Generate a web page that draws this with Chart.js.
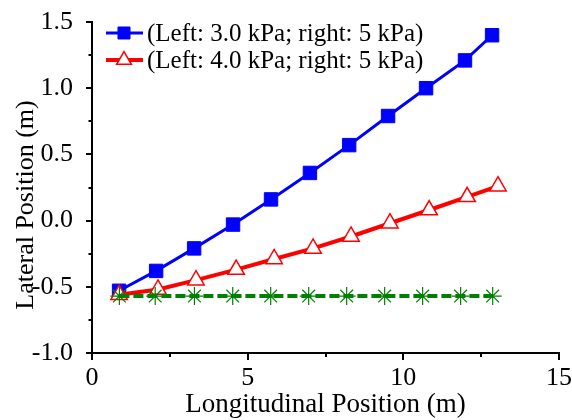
<!DOCTYPE html>
<html>
<head>
<meta charset="utf-8">
<script src="https://cdn.jsdelivr.net/npm/chart.js@4.4.1/dist/chart.umd.min.js"></script>
<style>
  html, body { margin: 0; padding: 0; background: #fff; }
</style>
</head>
<body>
<canvas id="chart" width="572" height="420"></canvas>
<script>
// legend labels
const seriesNames = ['(Left: 3.0 kPa; right: 5 kPa)', '(Left: 4.0 kPa; right: 5 kPa)']

// Left 3.0 kPa (blue squares)
const xBlue = [0.87, 2.06, 3.28, 4.53, 5.75, 7.0, 8.26, 9.51, 10.73, 11.98, 12.85]
const yBlue = [-0.53, -0.38, -0.21, -0.03, 0.16, 0.36, 0.57, 0.79, 1.0, 1.21, 1.40]

// Left 4.0 kPa (red triangles)
const xRed = [0.87, 2.12, 3.34, 4.63, 5.85, 7.1, 8.32, 9.57, 10.83, 12.05, 13.04]
const yRed = [-0.56, -0.52, -0.45, -0.37, -0.29, -0.21, -0.12, -0.02, 0.08, 0.18, 0.26]

// reference line (green stars)
const xGreen = [0.88, 2.03, 3.29, 4.52, 5.74, 6.96, 8.18, 9.40, 10.62, 11.84, 12.87]
const yGreen = [-0.57, -0.57, -0.57, -0.57, -0.57, -0.57, -0.57, -0.57, -0.57, -0.57, -0.57]

const xTitle = 'Longitudinal Position (m)'
const yTitle = 'Lateral Position (m)'

const FONT = 'Liberation Serif, Times New Roman, serif'

const toPoints = (xs, ys) => xs.map((x, i) => ({ x, y: ys[i] }))

const decor = {
  id: 'decor',
  afterDraw (chart) {
    const { ctx, chartArea: area, scales: { x, y } } = chart
    ctx.save()
    ctx.strokeStyle = '#000'
    ctx.lineWidth = 2
    // y ticks, major every 0.5, minor every 0.25
    for (let i = 0; i <= 10; i++) {
      const v = -1 + i * 0.25
      const py = Math.round(y.getPixelForValue(v))
      const len = i % 2 === 0 ? 6 : 3.5
      ctx.beginPath()
      ctx.moveTo(area.left - len, py)
      ctx.lineTo(area.left, py)
      ctx.stroke()
    }
    // x ticks, major every 5, minor every 2.5
    for (let i = 0; i <= 6; i++) {
      const v = i * 2.5
      const px = Math.round(x.getPixelForValue(v))
      const len = i % 2 === 0 ? 7 : 4
      ctx.beginPath()
      ctx.moveTo(px, area.bottom)
      ctx.lineTo(px, area.bottom + len)
      ctx.stroke()
    }

    // axis titles
    ctx.fillStyle = '#000'
    ctx.font = '27px ' + FONT
    ctx.textAlign = 'center'
    ctx.textBaseline = 'middle'
    ctx.fillText(xTitle, (area.left + area.right) / 2, 405)
    ctx.font = '26px ' + FONT
    ctx.translate(26, 205)
    ctx.rotate(-Math.PI / 2)
    ctx.fillText(yTitle, 0, 0)
    ctx.setTransform(1, 0, 0, 1, 0, 0)

    // legend (line + marker + text)
    const rows = [33, 60]
    ctx.font = '25px ' + FONT
    ctx.textAlign = 'left'
    rows.forEach((ry, i) => {
      const ds = chart.data.datasets[i]
      ctx.strokeStyle = ds.borderColor
      ctx.lineWidth = ds.borderWidth
      ctx.beginPath()
      ctx.moveTo(106, ry)
      ctx.lineTo(143, ry)
      ctx.stroke()
      ctx.fillStyle = ds.pointBackgroundColor
      ctx.strokeStyle = ds.pointBorderColor
      ctx.lineWidth = ds.pointBorderWidth
      Chart.helpers.drawPoint(ctx, {
        pointStyle: ds.pointStyle,
        radius: ds.pointRadius - 1,
        borderWidth: ds.pointBorderWidth
      }, 124, ry)
      ctx.fillStyle = '#000'
      ctx.fillText(seriesNames[i], 147, ry + 1)
    })
    ctx.restore()
  }
}

new Chart(document.getElementById('chart').getContext('2d'), {
  type: 'scatter',
  data: {
    datasets: [
      {
        label: seriesNames[0],
        data: toPoints(xBlue, yBlue),
        showLine: true,
        borderColor: '#0000ff',
        borderWidth: 3,
        pointStyle: 'rect',
        pointRadius: 9.5,
        pointBackgroundColor: '#0000ff',
        pointBorderColor: '#0000ff',
        pointBorderWidth: 1,
        order: 2
      },
      {
        label: seriesNames[1],
        data: toPoints(xRed, yRed),
        showLine: true,
        borderColor: '#ff0000',
        borderWidth: 4,
        pointStyle: 'triangle',
        pointRadius: 9.5,
        pointBackgroundColor: '#ffffff',
        pointBorderColor: '#ff0000',
        pointBorderWidth: 1.5,
        order: 1
      },
      {
        label: 'reference',
        data: toPoints(xGreen, yGreen),
        showLine: true,
        borderColor: '#008000',
        borderWidth: 4,
        borderDash: [10, 4],
        pointStyle: 'star',
        pointRadius: 9,
        pointBackgroundColor: '#008000',
        pointBorderColor: '#008000',
        pointBorderWidth: 1.2,
        order: 0
      }
    ]
  },
  options: {
    responsive: false,
    animation: false,
    clip: false,
    layout: { padding: { top: 22, right: 13, left: 0, bottom: 0 } },
    plugins: {
      legend: { display: false },
      tooltip: { enabled: false }
    },
    scales: {
      x: {
        type: 'linear',
        min: 0,
        max: 15,
        afterFit: (s) => {
          s.height = 67
          s.paddingLeft = 0
          s.paddingRight = 0
        },
        grid: { display: false },
        border: { display: true, color: '#000', width: 2 },
        ticks: {
          stepSize: 5,
          padding: 2,
          color: '#000',
          font: { family: FONT, size: 26 },
          callback: (v) => String(v)
        }
      },
      y: {
        type: 'linear',
        min: -1,
        max: 1.5,
        afterFit: (s) => {
          s.width = 92
          s.paddingTop = 0
          s.paddingBottom = 0
        },
        grid: { display: false },
        border: { display: true, color: '#000', width: 2 },
        ticks: {
          stepSize: 0.5,
          padding: 11,
          color: '#000',
          font: { family: FONT, size: 26 },
          callback: (v) => Number(v).toFixed(1)
        }
      }
    }
  },
  plugins: [decor]
})
</script>
</body>
</html>
